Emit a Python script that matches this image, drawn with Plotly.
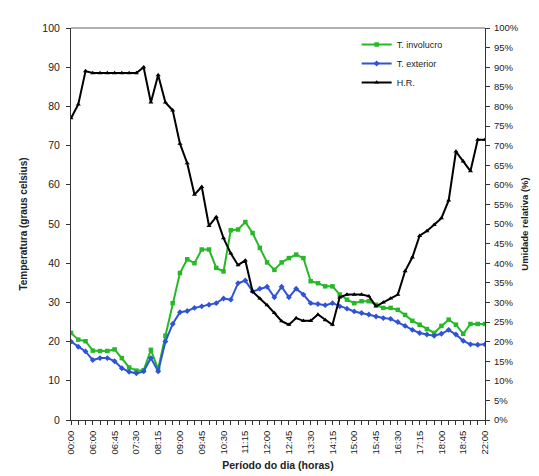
import plotly.graph_objects as go

categories = ["00:00", "05:30", "05:45",
              "06:00", "06:15", "06:30", "06:45", "07:00", "07:15", "07:30", "07:45",
              "08:00", "08:15", "08:30", "08:45", "09:00", "09:15", "09:30", "09:45",
              "10:00", "10:15", "10:30", "10:45", "11:00", "11:15", "11:30", "11:45",
              "12:00", "12:15", "12:30", "12:45", "13:00", "13:15", "13:30", "13:45",
              "14:00", "14:15", "14:30", "14:45", "15:00", "15:15", "15:30", "15:45",
              "16:00", "16:15", "16:30", "16:45", "17:00", "17:15", "17:30", "17:45",
              "18:00", "18:15", "18:30", "18:45", "19:00", "20:00", "22:00"]

t_involucro = [22.2, 20.5, 20.1, 17.7, 17.6, 17.6, 18.0, 15.8, 13.4, 12.6,
               12.7, 17.9, 13.0, 21.5, 29.8, 37.5, 41.0, 40.0, 43.5, 43.5,
               38.8, 37.9, 48.4, 48.6, 50.5, 47.7, 43.9, 40.2, 38.3, 40.2,
               41.3, 42.2, 41.3, 35.4, 34.9, 34.1, 34.1, 32.0, 30.7, 29.8,
               30.3, 30.3, 29.4, 28.6, 28.6, 28.1, 26.8, 25.3, 24.3, 23.2,
               22.2, 24.0, 25.6, 24.3, 22.0, 24.5, 24.5, 24.5]

t_exterior = [20.0, 18.7, 17.5, 15.3, 15.8, 15.8, 15.0, 13.2, 12.3, 11.9,
              12.4, 15.8, 12.4, 20.0, 24.5, 27.5, 27.8, 28.6, 29.0, 29.4,
              29.8, 31.0, 30.7, 34.9, 35.6, 32.8, 33.5, 34.0, 31.3, 34.0,
              31.3, 33.5, 32.0, 29.8, 29.6, 29.3, 29.8, 29.0, 28.4, 27.7,
              27.3, 26.9, 26.4, 26.0, 25.8, 25.0, 24.0, 23.0, 22.2, 21.8,
              21.5, 22.0, 23.0, 21.8, 20.2, 19.3, 19.2, 19.3]

hr = [77.0, 80.5, 89.0, 88.5, 88.5, 88.5, 88.5, 88.5, 88.5, 88.5,
      90.0, 81.0, 88.0, 81.0, 79.0, 70.5, 65.5, 57.5, 59.5, 49.5,
      51.8, 46.4, 42.5, 39.5, 40.7, 32.8, 31.0, 29.3, 27.3, 25.2,
      24.3, 26.0, 25.3, 25.3, 26.9, 25.5, 24.3, 31.3, 32.0, 32.0,
      32.0, 31.6, 29.0, 30.0, 31.0, 32.0, 38.0, 41.5, 47.0, 48.2,
      49.8, 51.5, 56.0, 68.5, 66.0, 63.5, 71.5, 71.5]

label_step = 3
x = list(range(len(categories)))
tickvals = x[::label_step]
ticktext = categories[::label_step]

FONT = "Liberation Sans, Arial, sans-serif"
AX = "#333333"

fig = go.Figure()
fig.add_trace(go.Scatter(x=x, y=t_involucro, name="T. involucro", mode="lines+markers",
                         line=dict(color="#27b827", width=2),
                         marker=dict(symbol="square", size=4.5, color="#27b827")))
fig.add_trace(go.Scatter(x=x, y=t_exterior, name="T. exterior", mode="lines+markers",
                         line=dict(color="#2f52d6", width=2),
                         marker=dict(symbol="diamond", size=4.5, color="#2f52d6")))
fig.add_trace(go.Scatter(x=x, y=hr, name="H.R.", mode="lines+markers", yaxis="y2",
                         line=dict(color="#000000", width=2),
                         marker=dict(symbol="triangle-up", size=4.5, color="#000000")))

fig.update_layout(
    width=539, height=476,
    margin=dict(l=63, r=62, t=20, b=64),
    paper_bgcolor="white", plot_bgcolor="white",
    font=dict(family=FONT, size=10, color="#222222"),
    showlegend=True,
    legend=dict(x=0.69, y=0.995, xanchor="left", yanchor="top",
                bgcolor="rgba(255,255,255,0)", font=dict(size=9, color="#222222"),
                itemwidth=30, tracegroupgap=0),
    xaxis=dict(range=[0, len(categories) - 1], tickmode="array", tickvals=tickvals,
               ticktext=ticktext, tickangle=-90, ticks="outside", ticklen=4,
               tickcolor=AX, showline=True, linecolor=AX, linewidth=1,
               showgrid=False, zeroline=False, tickfont=dict(size=9.5),
               ticklabelstandoff=2,
               minor=dict(dtick=1, tick0=0, ticks="outside", ticklen=4, tickcolor=AX),
               title=dict(text="<b>Período do dia (horas)</b>", font=dict(size=10.5), standoff=8)),
    yaxis=dict(range=[0, 100], dtick=10, ticks="outside", ticklen=4, tickcolor=AX,
               showline=True, linecolor=AX, linewidth=1, showgrid=False,
               zeroline=False, tickfont=dict(size=10.5), ticklabelstandoff=4,
               title=dict(text="<b>Temperatura (graus celsius)</b>", font=dict(size=10), standoff=12)),
    yaxis2=dict(range=[0, 100], dtick=5, ticksuffix="%", overlaying="y", side="right",
                ticks="outside", ticklen=4, tickcolor=AX, showline=True,
                linecolor=AX, linewidth=1, showgrid=False, zeroline=False,
                tickfont=dict(size=9.5), ticklabelstandoff=2,
                title=dict(text="<b>Umidade relativa (%)</b>", font=dict(size=9.5), standoff=3)),
)

fig.add_shape(type="line", xref="paper", yref="paper", x0=0, x1=1, y0=1, y1=1,
              line=dict(color="#b0b0b0", width=2))

fig.write_html("out.html")
